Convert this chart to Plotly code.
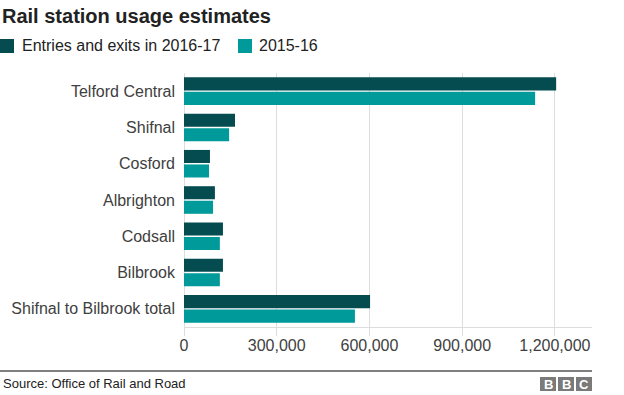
import plotly.graph_objects as go

categories = ["Telford Central", "Shifnal", "Cosford", "Albrighton", "Codsall", "Bilbrook", "Shifnal to Bilbrook total"]
usage_2016_17 = [1204000, 165000, 84000, 100000, 126000, 126000, 602000]
usage_2015_16 = [1136000, 146000, 81000, 94000, 116000, 116000, 553000]
series_names = ["Entries and exits in 2016-17", "2015-16"]
tick_values = [0, 300000, 600000, 900000, 1200000]
tick_labels = ["0", "300,000", "600,000", "900,000", "1,200,000"]

DARK = "#044c50"
TEAL = "#009a9a"
FONT = "Liberation Sans, Arial, sans-serif"

fig = go.Figure()
fig.add_trace(go.Bar(y=categories, x=usage_2016_17, orientation="h", name=series_names[0],
                     marker=dict(color=DARK, line=dict(width=0))))
fig.add_trace(go.Bar(y=categories, x=usage_2015_16, orientation="h", name=series_names[1],
                     marker=dict(color=TEAL, line=dict(width=0))))

fig.update_layout(
    width=624, height=395,
    margin=dict(l=184, r=32, t=73, b=68),
    paper_bgcolor="white", plot_bgcolor="white",
    barmode="group", bargap=0.2, bargroupgap=0.1,
    showlegend=False,
    font=dict(family=FONT, size=16, color="#404040"),
    xaxis=dict(range=[0, 1320000], tickvals=tick_values, ticktext=tick_labels,
               showgrid=True, gridcolor="#dddddd", gridwidth=1,
               zeroline=True, zerolinecolor="#dddddd", zerolinewidth=1,
               showline=True, linecolor="#dddddd", linewidth=1,
               ticks="outside", ticklen=8, tickcolor="#dddddd",
               ticklabelstandoff=-4,
               tickfont=dict(size=16, color="#404040"), fixedrange=True),
    yaxis=dict(autorange="reversed", showgrid=False, zeroline=False, ticks="",
               ticklabelstandoff=8,
               tickfont=dict(size=16, color="#404040"), fixedrange=True),
)

def px_x(px):
    return (px - 184) / 408
def px_y(py):
    return 1 - (py - 73) / 254

# Title
fig.add_annotation(text="<b>Rail station usage estimates</b>", xref="paper", yref="paper",
                   x=px_x(0), y=px_y(16), xanchor="left", yanchor="middle",
                   showarrow=False, font=dict(family=FONT, size=20, color="#222222"))

# Legend (manual)
fig.add_shape(type="rect", xref="paper", yref="paper", x0=px_x(0), x1=px_x(14), y0=px_y(53), y1=px_y(39),
              fillcolor=DARK, line=dict(width=0))
fig.add_annotation(text=series_names[0], xref="paper", yref="paper", x=px_x(20), y=px_y(46),
                   xanchor="left", yanchor="middle", showarrow=False,
                   font=dict(family=FONT, size=16, color="#222222"))
fig.add_shape(type="rect", xref="paper", yref="paper", x0=px_x(238), x1=px_x(252), y0=px_y(53), y1=px_y(39),
              fillcolor=TEAL, line=dict(width=0))
fig.add_annotation(text=series_names[1], xref="paper", yref="paper", x=px_x(257), y=px_y(46),
                   xanchor="left", yanchor="middle", showarrow=False,
                   font=dict(family=FONT, size=16, color="#222222"))

# Footer line
fig.add_shape(type="line", xref="paper", yref="paper", x0=px_x(0), x1=px_x(592), y0=px_y(371), y1=px_y(371),
              line=dict(color="#000000", width=1))
fig.add_annotation(text="Source: Office of Rail and Road", xref="paper", yref="paper", x=px_x(1), y=px_y(383),
                   xanchor="left", yanchor="middle", showarrow=False,
                   font=dict(family=FONT, size=13, color="#222222"))

# BBC logo
for i, letter in enumerate(["B", "B", "C"]):
    x0 = 540 + i * 18
    fig.add_shape(type="rect", xref="paper", yref="paper", x0=px_x(x0), x1=px_x(x0 + 16),
                  y0=px_y(391), y1=px_y(377), fillcolor="#7a7a7a", line=dict(width=0))
    fig.add_annotation(text="<b>" + letter + "</b>", xref="paper", yref="paper", x=px_x(x0 + 8), y=px_y(384),
                       xanchor="center", yanchor="middle", showarrow=False,
                       font=dict(family=FONT, size=13, color="white"))

fig.write_html("out.html", config={"displayModeBar": False},
               post_script="document.body.style.margin='0';document.body.style.padding='0';document.documentElement.style.overflow='hidden';")
